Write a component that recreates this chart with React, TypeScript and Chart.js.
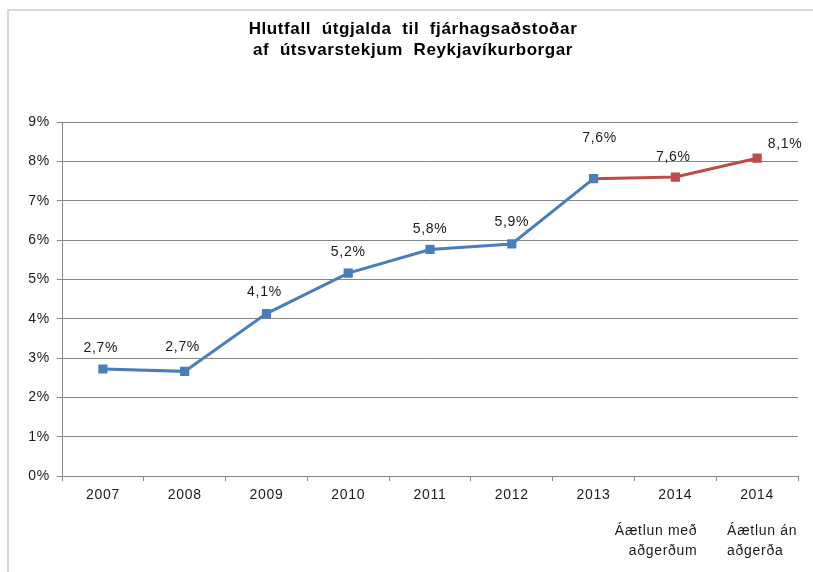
import React, { useEffect, useRef } from "react";
import { Chart, registerables } from "chart.js";

Chart.register(...registerables);

const categories = ["2007", "2008", "2009", "2010", "2011", "2012", "2013", "2014", "2014"];
const subLabels: (string[] | null)[] = [null, null, null, null, null, null, null, ["Áætlun með", "aðgerðum"], ["Áætlun án", "aðgerða"]];
const actualValues: (number | null)[] = [2.72, 2.66, 4.13, 5.16, 5.76, 5.9, 7.56, null, null];
const planValues: (number | null)[] = [null, null, null, null, null, null, 7.56, 7.6, 8.08];
const yTicks = [0, 1, 2, 3, 4, 5, 6, 7, 8, 9];
const titleLines = ["Hlutfall  útgjalda  til  fjárhagsaðstoðar", "af  útsvarstekjum  Reykjavíkurborgar"];

// label placement relative to each point (style, not data)
const labelOffsets: [number, number][] = [[-2, -21], [-2, -24], [-2, -21], [0, -21], [0, -20], [0, -22], [6, -40], [-2, -20], [28, -14]];

const FONT = "'Liberation Sans', Arial, sans-serif";
const fmt = (v: number) => v.toFixed(1).replace(".", ",") + "%";

const overlayPlugin = {
  id: "overlay",
  beforeDraw(chart: any) {
    chart.ctx.letterSpacing = "0.7px";
  },
  afterDatasetsDraw(chart: any) {
    const ctx = chart.ctx;
    const xs = chart.scales.x;
    const ys = chart.scales.y;
    ctx.save();
    // title
    ctx.fillStyle = "#000";
    ctx.font = `bold 17px ${FONT}`;
    ctx.letterSpacing = "0.6px";
    ctx.textAlign = "center";
    ctx.textBaseline = "middle";
    ctx.fillText(titleLines[0], 413, 29);
    ctx.fillText(titleLines[1], 413, 50);
    // data labels
    ctx.font = `14px ${FONT}`;
    ctx.letterSpacing = "0.7px";
    ctx.fillStyle = "#1a1a1a";
    categories.forEach((_, i) => {
      const v = actualValues[i] != null && i < 7 ? actualValues[i] : planValues[i];
      if (v == null) return;
      const [dx, dy] = labelOffsets[i];
      const x = xs.getPixelForValue(i) + dx;
      const y = ys.getPixelForValue(v) + dy;
      ctx.textAlign = "center";
      ctx.fillText(fmt(v), x, y);
    });
    // sub labels
    ctx.textBaseline = "alphabetic";
    subLabels.forEach((lines, i) => {
      if (!lines) return;
      const c = xs.getPixelForValue(i);
      const right = i === 7;
      ctx.textAlign = right ? "right" : "left";
      const x = right ? c + 22 : c - 30;
      lines.forEach((t, k) => ctx.fillText(t, x, ys.bottom + 59 + k * 20));
    });
    ctx.restore();
  },
};

export default function App() {
  const ref = useRef<HTMLCanvasElement>(null);
  useEffect(() => {
    if (!ref.current) return;
    const chart = new Chart(ref.current, {
      type: "line",
      data: {
        labels: categories,
        datasets: [
          {
            data: actualValues,
            borderColor: "#4a7ebb",
            backgroundColor: "#4a7ebb",
            borderWidth: 3,
            pointStyle: "rect",
            pointRadius: 6.5,
            pointBorderWidth: 0,
            tension: 0,
            spanGaps: false,
          },
          {
            data: planValues,
            borderColor: "#be4b48",
            backgroundColor: "#be4b48",
            borderWidth: 3,
            pointStyle: "rect",
            pointRadius: (c: any) => (c.dataIndex === 6 ? 0 : 6.5),
            pointBorderWidth: 0,
            tension: 0,
          },
        ],
      },
      options: {
        animation: false,
        responsive: false,
        devicePixelRatio: 1,
        layout: { padding: { top: 122, right: 15, left: 0, bottom: 0 } },
        plugins: { legend: { display: false }, title: { display: false }, tooltip: { enabled: false } },
        scales: {
          x: {
            type: "category",
            offset: true,
            grid: { display: true, drawOnChartArea: false, drawTicks: true, tickLength: 5, color: "#868686", offset: true },
            border: { color: "#868686", width: 1 },
            ticks: { color: "#1a1a1a", font: { family: FONT, size: 14 }, padding: 6, maxRotation: 0, autoSkip: false },
            afterFit: (s: any) => { s.height = 96; },
          },
          y: {
            min: 0,
            max: 9,
            afterBuildTicks: (s: any) => { s.ticks = yTicks.map((v) => ({ value: v })); },
            grid: { color: "#868686", tickLength: 5 },
            border: { color: "#868686", width: 1 },
            ticks: { color: "#1a1a1a", font: { family: FONT, size: 14 }, padding: 7, callback: (v: any) => v + "%" },
            afterFit: (s: any) => { s.width = 62; },
          },
        },
      },
      plugins: [overlayPlugin],
    } as any);
    return () => chart.destroy();
  }, []);
  return (
    <div style={{ position: "absolute", left: 0, top: 0, width: 813, height: 572, background: "#fff" }}>
      <div style={{ position: "absolute", left: 7, top: 9, width: 806, height: 2, background: "#d9d9d9" }} />
      <div style={{ position: "absolute", left: 7, top: 9, width: 2, height: 563, background: "#d9d9d9" }} />
      <canvas ref={ref} width={813} height={572} style={{ position: "absolute", left: 0, top: 0 }} />
    </div>
  );
}
